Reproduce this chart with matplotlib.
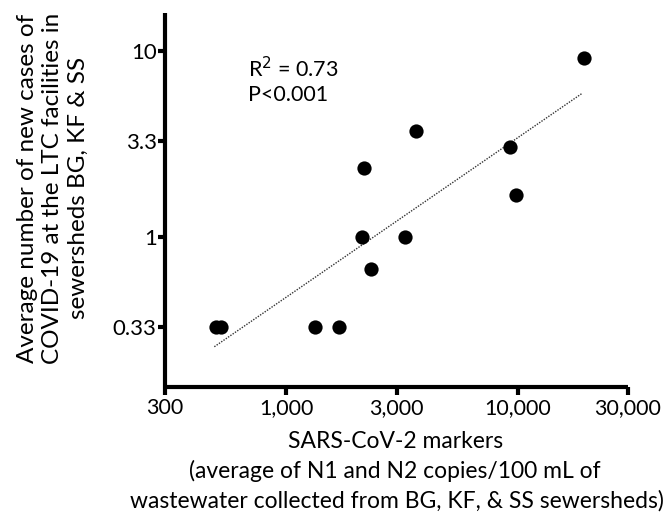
import matplotlib
matplotlib.use("Agg")
import matplotlib.pyplot as plt
from matplotlib.ticker import FixedLocator, NullLocator

plt.rcParams['font.family'] = ['Lato', 'DejaVu Sans']

# Data
markers = [497, 524, 1334, 1698, 2128, 2173, 2333, 3266, 3656, 9270, 9820, 19360]
cases = [0.33, 0.33, 0.33, 0.33, 1.0, 2.35, 0.672, 1.0, 3.71, 3.04, 1.68, 9.21]
fit_x = [490, 19100]
fit_y = [0.257, 5.97]

x_ticks = [300, 1000, 3000, 10000, 30000]
x_tick_labels = ["300", "1,000", "3,000", "10,000", "30,000"]
y_ticks = [0.33, 1, 3.3, 10]
y_tick_labels = ["0.33", "1", "3.3", "10"]

fig = plt.figure(figsize=(6.71, 5.13), dpi=100)
ax = fig.add_axes([165/671, 1-387/513, (628-165)/671, (387-13)/513])

ax.plot(fit_x, fit_y, color='#333333', lw=1.0, linestyle=(0, (1, 1)), zorder=2)
ax.scatter(markers, cases, s=105, color='black', zorder=3, linewidths=0)

ax.set_xscale('log')
ax.set_yscale('log')
ax.set_xlim(300, 30000)
ax.set_ylim(0.156, 16.1)

ax.xaxis.set_major_locator(FixedLocator(x_ticks))
ax.xaxis.set_minor_locator(NullLocator())
ax.set_xticklabels(x_tick_labels)
ax.yaxis.set_major_locator(FixedLocator(y_ticks))
ax.yaxis.set_minor_locator(NullLocator())
ax.set_yticklabels(y_tick_labels)

for s in ['top', 'right']:
    ax.spines[s].set_visible(False)
for s in ['left', 'bottom']:
    ax.spines[s].set_linewidth(3)
    ax.spines[s].set_capstyle('butt')

ax.tick_params(axis='x', direction='out', length=6, width=3, labelsize=15.5, pad=2, color='black')
ax.tick_params(axis='y', direction='out', length=5, width=3, labelsize=16, pad=1, color='black')

ax.text(248/671, 1-56/513, "R$^2$ = 0.73\nP<0.001", transform=fig.transFigure,
        fontsize=15.5, va='top', ha='left', linespacing=1.25)

fig.text(396/671, 1-441/513, "SARS-CoV-2 markers", ha='center', va='center', fontsize=16.5)
fig.text(395/671, 1-471/513, "(average of N1 and N2 copies/100 mL of", ha='center', va='center', fontsize=16.5)
fig.text(397/671, 1-501/513, "wastewater collected from BG, KF, & SS sewersheds)", ha='center', va='center', fontsize=16.5)

fig.text(53/671, 1-188/513,
         "Average number of new cases of\nCOVID-19 at the LTC facilities in\nsewersheds BG, KF & SS",
         ha='center', va='center', rotation=90, fontsize=17.5, linespacing=1.25)

fig.savefig("out.png", dpi=100)
